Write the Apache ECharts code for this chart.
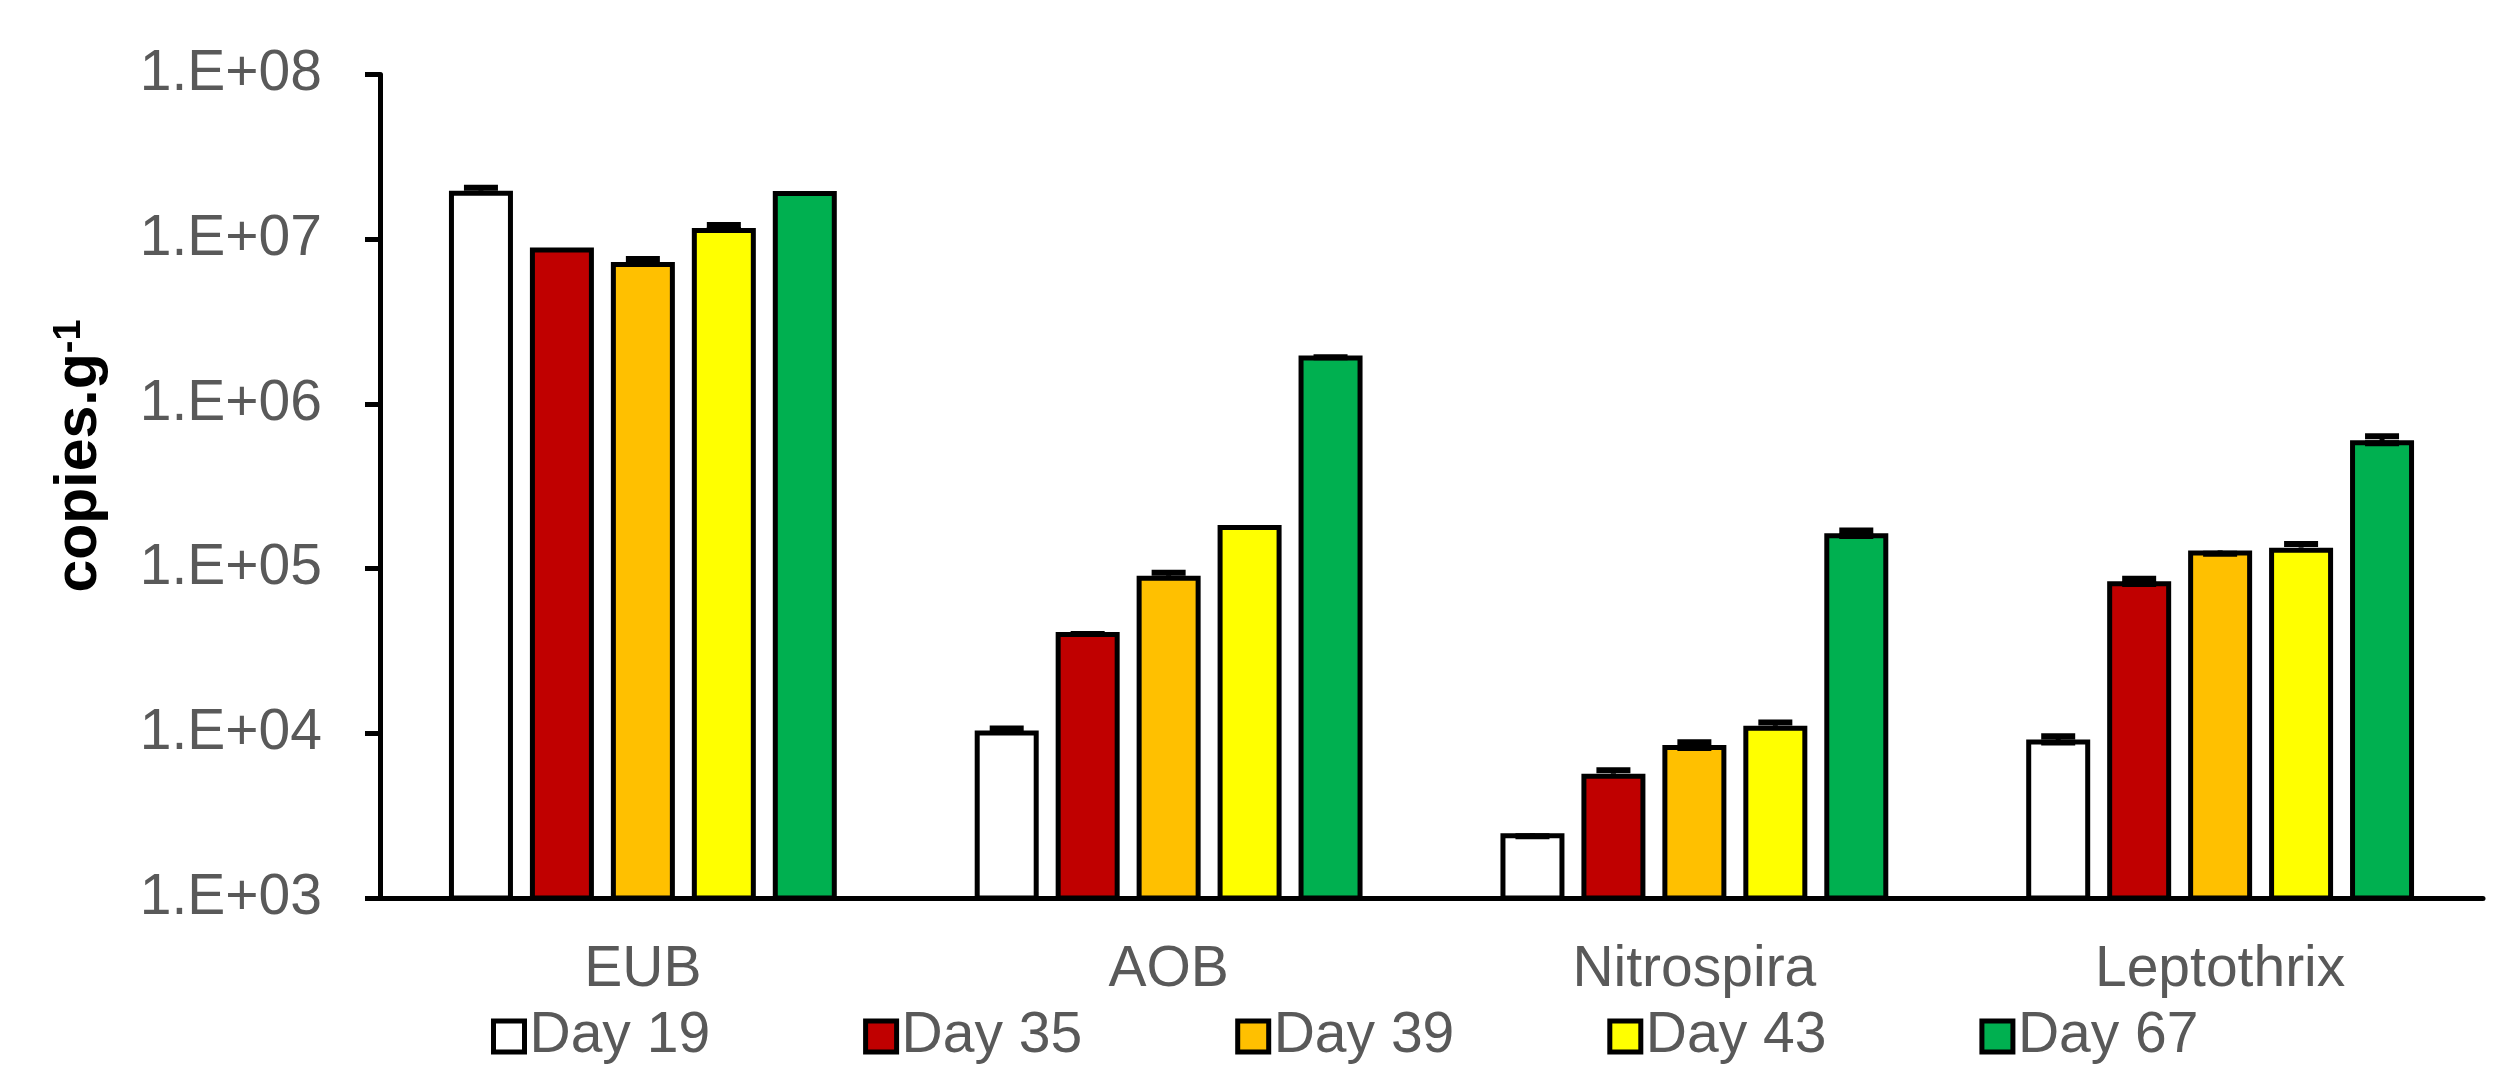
<!DOCTYPE html>
<html>
<head>
<meta charset="utf-8">
<script src="https://cdn.jsdelivr.net/npm/echarts@6/dist/echarts.min.js"></script>
<style>
html,body{margin:0;padding:0;background:#fff;}
#chart{width:2503px;height:1067px;}
</style>
</head>
<body>
<div id="chart"></div>
<script>
// ---- data ----
const categories = ['EUB', 'AOB', 'Nitrospira', 'Leptothrix'];
const seriesNames = ['Day 19', 'Day 35', 'Day 39', 'Day 43', 'Day 67'];
const day19 = [1.97e7, 10400, 2470, 9170];
const day35 = [8.9e6, 41200, 5680, 83700];
const day39 = [7.27e6, 90400, 8490, 129000];
const day43 = [1.17e7, 184000, 11100, 134000];
const day67 = [1.96e7, 1.97e6, 164000, 601000];
// error bars (upper / lower)
const day19Up = [8.5e5, 290, 0, 430];
const day19Down = [0, 0, 100, 380];
const day35Up = [0, 0, 284, 3180];
const day35Down = [0, 1120, 0, 3100];
const day39Up = [3.1e5, 3890, 320, 0];
const day39Down = [0, 0, 350, 5800];
const day43Up = [5.0e5, 0, 520, 7100];
const day43Down = [3.2e5, 0, 0, 0];
const day67Up = [0, 0, 6200, 35000];
const day67Down = [0, 53000, 6100, 24600];
const yTickLabels = ['1.E+03', '1.E+04', '1.E+05', '1.E+06', '1.E+07', '1.E+08'];
const colors = ['#FFFFFF', '#C00000', '#FFC000', '#FFFF00', '#00B050'];

const values = [day19, day35, day39, day43, day67];
const ups = [day19Up, day35Up, day39Up, day43Up, day67Up];
const downs = [day19Down, day35Down, day39Down, day43Down, day67Down];

const BAR_W = 64;
const GAP = 0.265;
const PITCH = BAR_W * (1 + GAP);
const gray = '#595959';
const FONT = '"Liberation Sans", Arial, sans-serif';

const chart = echarts.init(document.getElementById('chart'));

const series = [];
values.forEach((vals, i) => {
  series.push({
    name: seriesNames[i],
    type: 'bar',
    data: vals,
    barWidth: BAR_W,
    barGap: (GAP * 100) + '%',
    itemStyle: { color: colors[i], borderColor: '#000', borderWidth: 5 },
    z: 2
  });
});
values.forEach((vals, i) => {
  series.push({
    name: 'err' + i,
    type: 'custom',
    z: 5,
    data: vals.map((v, k) => [k, v, ups[i][k], downs[i][k]]),
    renderItem: function (params, api) {
      const k = api.value(0), v = api.value(1), up = api.value(2), dn = api.value(3);
      const c = api.coord([k, v]);
      const x = c[0] + (i - 2) * PITCH;
      const yH = api.coord([k, v + up])[1];
      const yL = api.coord([k, v - dn])[1];
      const half = 17;
      const children = [];
      const st = { stroke: '#000', lineWidth: 6 };
      children.push({ type: 'line', shape: { x1: x, y1: yL, x2: x, y2: yH }, style: { stroke: '#000', lineWidth: 5 } });
      if (up > 0) children.push({ type: 'line', shape: { x1: x - half, y1: yH, x2: x + half, y2: yH }, style: st });
      if (dn > 0) children.push({ type: 'line', shape: { x1: x - half, y1: yL, x2: x + half, y2: yL }, style: st });
      return { type: 'group', children: children };
    }
  });
});

chart.setOption({
  animation: false,
  backgroundColor: '#fff',
  grid: { left: 380, right: 20, top: 74.5, bottom: 169 },
  legend: {
    data: seriesNames,
    left: 486,
    top: 1003,
    itemWidth: 31,
    itemHeight: 31,
    itemGap: 153,
    icon: 'rect',
    itemStyle: { borderColor: '#000', borderWidth: 5 },
    textStyle: { color: gray, fontSize: 57, fontFamily: FONT, padding: [0, 0, 0, 0] }
  },
  xAxis: {
    type: 'category',
    data: categories,
    axisLine: { lineStyle: { color: '#000', width: 5 } },
    axisTick: { show: false },
    axisLabel: { color: gray, fontSize: 57, fontFamily: FONT, margin: 44 },
    splitLine: { show: false }
  },
  yAxis: {
    type: 'log',
    logBase: 10,
    min: 1000,
    max: 1e8,
    axisLine: { show: true, lineStyle: { color: '#000', width: 5 } },
    axisTick: { show: true, length: 15, lineStyle: { color: '#000', width: 5 } },
    splitLine: { show: false },
    axisLabel: {
      color: gray, fontSize: 57, fontFamily: FONT, margin: 58,
      formatter: function (v) {
        const e = Math.round(Math.log10(v));
        return yTickLabels[e - 3];
      }
    }
  },
  graphic: [{
    type: 'text',
    x: 80,
    y: 456,
    rotation: Math.PI / 2,
    style: {
      text: 'copies.g{sup|-1}',
      fill: '#000',
      fontSize: 59,
      fontWeight: 'bold',
      fontFamily: FONT,
      textAlign: 'center',
      textVerticalAlign: 'middle',
      rich: {
        sup: { fontSize: 38, fontWeight: 'bold', fontFamily: FONT, fill: '#000', verticalAlign: 'top', padding: [0, 0, 20, 0] }
      }
    }
  }],
  series: series
});
</script>
</body>
</html>
